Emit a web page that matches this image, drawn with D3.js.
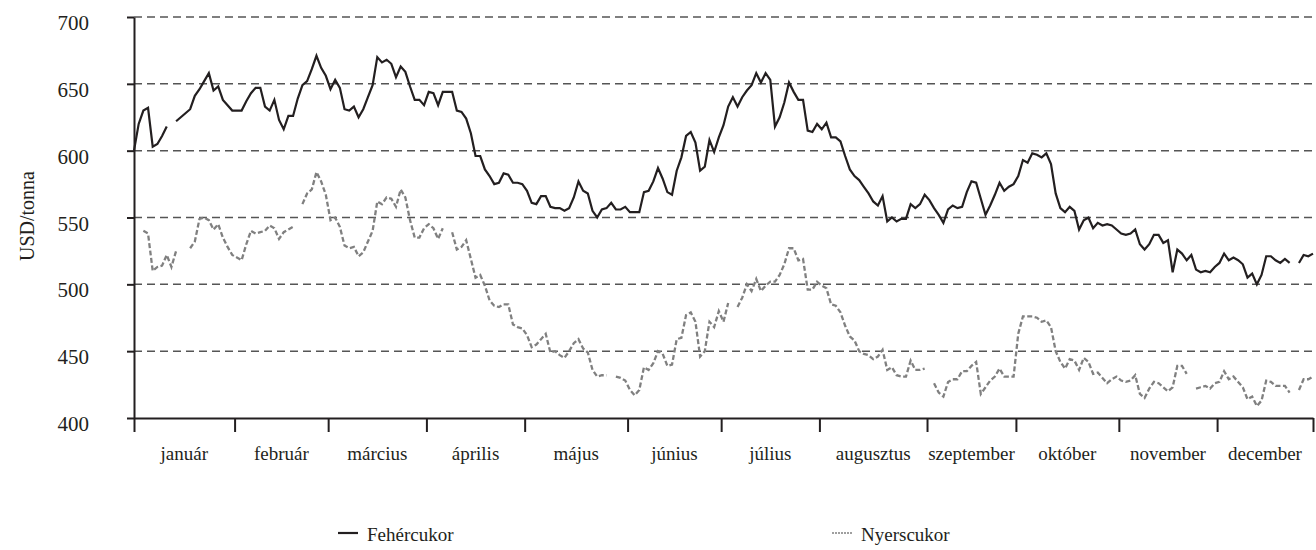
<!DOCTYPE html>
<html>
<head>
<meta charset="utf-8">
<script src="https://cdn.jsdelivr.net/npm/d3@7"></script>
<style>
  body { margin: 0; background: #fff; }
  svg text { font-family: "Liberation Serif", "Times New Roman", serif !important; fill: #231f20; }
  .axis path, .axis line { stroke: #231f20; stroke-width: 2; }
  .grid line { stroke: #555; stroke-width: 1.5; stroke-dasharray: 8, 5; }
</style>
</head>
<body>
<script>
// Month names and number of trading days in each month
var months = ["január", "február", "március", "április", "május", "június",
  "július", "augusztus", "szeptember", "október", "november", "december"];
var monthDays = [22, 20, 21, 21, 22, 20, 21, 23, 19, 22, 21, 21];

var yTicks = [400, 450, 500, 550, 600, 650, 700];

// Daily prices, USD/tonna (null = no quotation)
var feher = [
  600, 620, 630, 632, 603, 605, 611, 618, null, 622, 625, 628, 631, 641, 646, 652, 658, 645, 648, 638,
  634, 630, 630, 630, 637, 643, 647, 647, 633, 630, 638, 623, 616, 626, 626, 639, 649, 652, 661, 671,
  662, 656, 646, 653, 647, 631, 630, 633, 625, 631, 640, 649, 670, 666, 668, 665, 655, 663, 659, 648,
  638, 638, 634, 644, 643, 634, 644, 644, 644, 630, 629, 624, 613, 596, 596, 586, 581, 575, 576, 583,
  582, 576, 576, 575, 570, 561, 560, 566, 566, 558, 557, 557, 555, 557, 565, 577, 570, 568, 555, 550,
  556, 557, 561, 556, 556, 558, 554, 554, 554, 569, 570, 577, 587, 579, 569, 567, 585, 595, 611, 614,
  606, 585, 588, 608, 599, 610, 619, 633, 640, 633, 640, 645, 649, 658, 651, 658, 653, 618, 625, 636,
  651, 644, 638, 638, 615, 614, 620, 616, 621, 610, 610, 607, 596, 586, 581, 578, 573, 568, 562, 559,
  566, 547, 550, 547, 549, 549, 560, 557, 560, 567, 563, 557, 552, 546, 556, 559, 557, 558, 569, 577,
  576, 564, 552, 559, 567, 576, 570, 573, 575, 581, 593, 591, 598, 597, 595, 598, 590, 568, 557, 554,
  558, 555, 541, 548, 550, 542, 546, 544, 545, 544, 541, 538, 537, 538, 541, 530, 526, 530, 537, 537,
  531, 533, 509, 526, 523, 518, 522, 511, 509, 510, 509, 513, 516, 523, 518, 520, 518, 515, 505, 508,
  500, 507, 521, 521, 518, 516, 519, 516, null, 516, 522, 521, 523
];

var nyers = [
  null, null, 540, 538, 510, 513, 514, 522, 513, 525, null, null, 527, 532, 549, 550, 548, 541, 545, 535,
  528, 522, 520, 518, 530, 540, 538, 539, 540, 544, 542, 534, 539, 541, 543, null, 560, 568, 571, 584,
  577, 567, 548, 550, 543, 529, 527, 528, 521, 524, 532, 540, 562, 560, 565, 564, 558, 571, 565, 548,
  535, 535, 542, 545, 542, 534, 542, null, 539, 526, 528, 533, 519, 505, 507, 499, 488, 484, 483, 485,
  485, 470, 468, 467, 462, 453, 455, 459, 463, 449, 450, 447, 445, 450, 456, 459, 452, 449, 436, 431,
  432, 432, null, 431, 430, 428, 421, 417, 421, 438, 436, 441, 450, 448, 439, 440, 459, 460, 477, 479,
  472, 446, 450, 472, 468, 480, 472, 486, null, 483, 490, 500, 495, 504, 495, 499, 502, 502, 507, 515,
  527, 527, 518, 519, 496, 496, 502, 499, 497, 485, 484, 479, 469, 461, 458, 450, 448, 447, 444, 446,
  451, 436, 438, 432, 431, 431, 443, 436, 436, 437, null, 426, 419, 416, 427, 429, 429, 435, 435, 439,
  442, 418, 423, 428, 431, 437, 431, 431, 431, 463, 476, 476, 476, 475, 472, 473, 468, 450, 442, 437,
  444, 443, 436, 445, 442, 433, 434, 430, 426, 429, 431, 428, 427, 428, 432, 418, 415, 422, 427, 426,
  423, 420, 423, 439, 439, 433, null, 422, 423, 424, 422, 426, 427, 435, 429, 431, 427, 423, 414, 416,
  409, 413, 428, 427, 424, 424, 424, 419, null, 421, 429, 429, 431
];

// Set the dimensions of the canvas
var margin = { top: 17, right: 3, bottom: 132, left: 134 },
  width = 1316 - margin.left - margin.right,
  height = 550 - margin.top - margin.bottom;

var n = feher.length;

// Set the ranges
var x = d3.scaleLinear().domain([0, n - 1]).range([0, width]);
var y = d3.scaleLinear().domain([400, 700]).range([height, 0]);

// Month borders in day index
var bounds = [0];
var start = 0;
monthDays.forEach(function (d, i) {
  start += d;
  bounds.push(i < monthDays.length - 1 ? start - 0.5 : n - 1);
});

var svg = d3
  .select("body")
  .append("svg")
  .attr("width", 1316)
  .attr("height", 550)
  .attr("font-family", "Liberation Serif, Times New Roman, serif")
  .append("g")
  .attr("transform", "translate(" + margin.left + "," + margin.top + ")");

// Dashed gridlines
svg
  .append("g")
  .attr("class", "grid")
  .selectAll("line")
  .data(yTicks.filter(function (d) { return d > 400; }))
  .enter()
  .append("line")
  .attr("x1", 0)
  .attr("x2", width)
  .attr("y1", function (d) { return y(d); })
  .attr("y2", function (d) { return y(d); });

// Y axis
var yAxis = svg
  .append("g")
  .attr("class", "axis")
  .call(d3.axisLeft(y).tickValues(yTicks).tickSize(7).tickSizeOuter(0).tickPadding(38));
yAxis.attr("font-family", null);
yAxis.selectAll("text").style("font-size", "21px").attr("dy", "0.6em");

// X axis with month borders
var xAxis = svg
  .append("g")
  .attr("class", "axis")
  .attr("transform", "translate(0," + height + ")")
  .call(d3.axisBottom(x).tickValues(bounds).tickSize(14).tickSizeOuter(0).tickFormat(""));

// Month labels between the ticks
svg
  .append("g")
  .selectAll("text")
  .data(months)
  .enter()
  .append("text")
  .attr("x", function (d, i) { return x((bounds[i] + bounds[i + 1]) / 2); })
  .attr("y", height + 42)
  .attr("text-anchor", "middle")
  .style("font-size", "19px")
  .text(function (d) { return d; });

// Y axis title
svg
  .append("text")
  .attr("transform", "translate(" + (33.5 - margin.left) + "," + (216 - margin.top) + ") rotate(-90)")
  .attr("text-anchor", "middle")
  .style("font-size", "20px")
  .text("USD/tonna");

// Lines
var line = d3
  .line()
  .defined(function (d) { return d != null; })
  .x(function (d, i) { return x(i); })
  .y(function (d) { return y(d); });

svg
  .append("path")
  .attr("fill", "none")
  .attr("stroke", "#808080")
  .attr("stroke-width", 2.3)
  .attr("stroke-dasharray", "5,2.5")
  .attr("d", line(nyers));

svg
  .append("path")
  .attr("fill", "none")
  .attr("stroke", "#231f20")
  .attr("stroke-width", 2.2)
  .attr("d", line(feher));

// Legend
var legend = [
  { name: "Fehércukor", color: "#231f20", dash: null, width: 2.2, x: 338 },
  { name: "Nyerscukor", color: "#808080", dash: "2,1", width: 1.3, x: 832 }
];
legend.forEach(function (d) {
  svg
    .append("line")
    .attr("x1", d.x - margin.left)
    .attr("x2", d.x - margin.left + 20)
    .attr("y1", 533 - margin.top)
    .attr("y2", 533 - margin.top)
    .attr("stroke", d.color)
    .attr("stroke-width", d.width)
    .attr("stroke-dasharray", d.dash);
  svg
    .append("text")
    .attr("x", d.x - margin.left + 29)
    .attr("y", 541 - margin.top)
    .style("font-size", "19px")
    .text(d.name);
});
</script>
</body>
</html>
